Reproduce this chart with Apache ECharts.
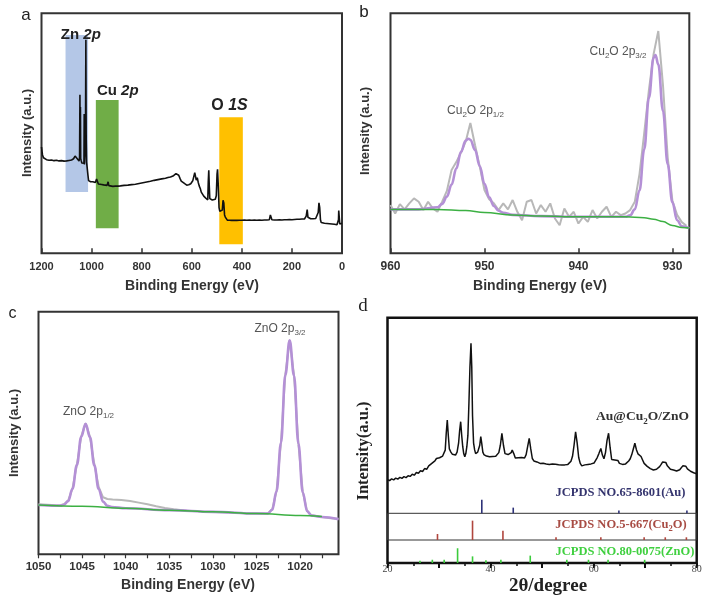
<!DOCTYPE html>
<html><head><meta charset="utf-8">
<script src="https://cdn.jsdelivr.net/npm/echarts/dist/echarts.min.js"></script>
<style>html,body{margin:0;padding:0;background:#fff}#c{width:709px;height:603px}</style>
</head><body><div id="c"></div>
<script>
// ---------- Panel a: XPS survey ----------
const surveyE = [1200,1198,1196,1192,1187,1180,1170,1160,1150,1140,1130,1120,1110,1100,1090,1080,1072,1066,1062,1058,1054,1050,1048,1046.5,1045.5,1044.5,1043.5,1041.5,1039,1036,1032,1030.5,1029.5,1028.5,1026,1024.5,1022.8,1021.5,1020,1018,1015,1012,1008,1004,1000,995,990,985,980,977,973,968,960,952,945,938,934,931,925,915,905,895,885,870,855,840,825,810,795,780,765,750,735,720,705,695,685,675,668,663,658,652,647,642,635,628,620,612,604,596,592,588,585,582,578,574,570,566,562,558,552,548,544,539,536,534,532,530,528,524,518,512,506,502,499,497,494,491,488,485,481,478,475,472,469,466,462,458,450,440,430,420,410,400,390,380,370,360,350,340,330,320,310,300,290,286,283,280,270,260,250,240,230,220,210,200,190,180,170,160,150,143,139,136,132,125,115,105,98,95,92,89,86,83,78,70,60,50,40,30,20,16,14,13,11,9,6,3,0];
const surveyI = [44.3,42.5,41,39.8,39.4,39.0,38.8,38.9,38.6,38.8,38.5,38.6,38.4,38.5,38.7,38.9,39.4,40.5,41.3,39.5,38.8,38.4,40,66.1,40,61,39.5,38.6,37.6,37.4,36.8,37.5,58,37,36.4,45,89.0,48,38,36,33,30.3,29.9,29.8,29.5,29.8,29.4,29.5,31.0,30.5,28.9,29.0,28.7,28.5,28.6,28.3,29.8,28.2,28.1,27.9,28.0,28.0,28.1,28.3,28.4,28.6,28.8,29.1,29.4,29.7,30.0,30.4,30.7,31.0,31.3,31.6,31.8,32.2,32.8,33.2,33.0,32.5,31.2,30.1,29.4,29.0,28.4,28.6,29.0,30.2,31.0,33.6,33.0,30.5,31.5,29.5,28.0,27.0,25.5,24.9,23.8,23.5,23.0,22.5,22.3,30,34.6,28,22.8,22.5,22.2,22.1,22.5,24,33,35.0,28,19,17.5,17.2,16.7,18,22.1,21,16,15.1,14.3,13.8,13.8,13.7,13.8,13.7,13.8,13.8,13.9,13.8,13.9,13.8,13.9,13.8,13.9,13.8,13.9,13.9,14.0,16.0,16.2,14.0,13.9,13.9,14.0,13.9,14.0,14.0,14.1,14.0,14.1,14.2,14.2,14.3,14.3,15.5,18.2,15.0,14.5,14.4,14.4,14.5,14.5,17,21,19,14,12.8,12.6,12.5,12.4,12.3,12.2,12.1,11.9,11.8,14,17.8,17,12.2,12.1,12.0,12.5];
const bandNames = ['Zn', 'Cu', 'O'];
const bandOrbital = ['2p', '2p', '1S'];
const bandFrom = [1104, 983, 490];
const bandTo = [1014, 892, 396];
const bandLow = [25.5, 10.4, 3.8];
const bandHigh = [91, 63.9, 56.7];
const bandColors = ['#b4c7e7', '#70ad47', '#ffc000'];

// ---------- Panel b: Cu 2p ----------
const cuRawE = [960,959.5,959,958.5,958,957.5,957,956.5,956,955.5,955,954.5,954,953.5,953,952.5,952,951.5,951,950.5,950,949.5,949,948.5,948,947.5,947,946.5,946,945.5,945,944.5,944,943.5,943,942.5,942,941.5,941,940.5,940,939.5,939,938.5,938,937.5,937,936.5,936,935.5,935,934.5,934,933.5,933,932.5,932,931.5,931,930.5,930,929.5,929,928.5];
const cuRawI = [20.1,16.6,20.5,18.3,20.8,22.9,21.5,18.0,21.5,18.7,17.3,21.5,26,34.7,38,42,46.5,54.3,45,36.1,26.4,22.5,20.8,18.0,20.8,18.3,22.2,17.3,13.8,21.5,22.2,16.6,20.1,17.3,20.8,14.5,11.7,18.7,15.2,17.3,12.4,15.2,13.1,18.0,14.5,17.3,19.4,15.2,17.3,15.9,16.6,18.0,21.5,33,50,68,83,92.6,70,40,22,16,13,11.5];
const cuFitE = [960,957,955,954.5,954,953.5,953,952.5,952,951.7,951.5,951,950.5,950,949.5,949,948.5,948,947,944,940,936,935,934.5,934,933.5,933,932.5,932,931.8,931.5,931,930.5,930,929.5,929,928.2];
const cuFitI = [18.3,18.3,19.2,20.6,23.6,28.6,35.3,42.2,47.0,47.7,47.3,43.0,36.3,29.0,23.3,19.7,17.7,16.9,16.0,15.5,15.2,15.2,15.2,15.8,18.3,26.2,43.3,64.8,81.5,82.6,78.7,59.3,37.1,21.2,13.8,11.3,10.5];
const cuBgE = [960,955,952,950,947,944,940,935,933,932,931,930,929,928.2];
const cuBgI = [18.3,18.3,17.8,17.0,16.0,15.5,15.2,15.2,14.8,14.2,13.2,11.6,10.7,10.5];

// ---------- Panel c: Zn 2p ----------
const znRawE = [1050,1049,1048,1047.5,1047.1,1046.6,1046.1,1045.6,1045.1,1044.6,1044.1,1043.6,1043.1,1042.6,1042.1,1041.5,1040.5,1039.5,1038.5,1037.5,1036.5,1035.5,1034.5,1033,1031,1029,1027,1025,1023.7,1023.2,1022.7,1022.2,1021.7,1021.2,1020.7,1020.2,1019.7,1019.2,1018.7,1017.5,1016.5,1015.6];
const znRawI = [20.6,20.4,20.2,20.2,20.6,22.1,27.2,37,48.6,54,48.5,37.2,27.8,23.5,22.8,22.6,22.4,22.0,21.3,20.6,19.8,19.1,18.6,18.0,17.6,17.3,17.0,16.8,16.9,18.5,26.2,46,74,88.3,73.8,45.7,25.7,17.9,16.1,15.4,14.9,14.5];
const znFitE = [1050,1048,1047.5,1047.1,1046.6,1046.1,1045.6,1045.1,1044.6,1044.1,1043.6,1043.1,1042.6,1042.1,1041.6,1040,1035,1030,1025,1023.7,1023.2,1022.7,1022.2,1021.7,1021.2,1020.7,1020.2,1019.7,1019.2,1018.7,1017.5,1015.6];
const znFitI = [20.3,20.0,20.0,20.4,21.9,27.0,36.8,48.4,53.8,48.3,36.7,26.9,21.7,20.0,19.5,19.0,18.2,17.5,16.8,16.8,18.4,26.0,45.9,73.9,88.2,73.7,45.6,25.6,17.8,16.0,15.4,14.5];
const znBgE = [1050,1045,1040,1035,1030,1025,1020,1017.5];
const znBgI = [20.3,19.8,19.0,18.2,17.5,16.8,16.0,15.6];

// ---------- Panel d: XRD ----------
const xrdTheta = [20.0,20.4,20.8,21.2,21.6,22.0,22.4,22.8,23.2,23.6,24.0,24.4,24.8,25.2,25.6,26.0,26.4,26.8,27.2,27.6,28.0,28.3,28.6,28.9,29.2,29.5,29.8,30.1,30.4,30.7,31.0,31.2,31.4,31.6,31.8,32.0,32.3,32.6,32.9,33.2,33.5,33.8,34.0,34.2,34.4,34.6,34.8,35.0,35.2,35.4,35.6,35.8,36.0,36.2,36.35,36.5,36.7,36.9,37.1,37.3,37.5,37.7,37.9,38.1,38.3,38.5,38.7,38.9,39.2,39.5,39.8,40.1,40.4,40.7,41.0,41.3,41.6,41.9,42.2,42.5,42.8,43.1,43.4,43.7,44.0,44.2,44.5,44.8,45.1,45.4,45.7,46.0,46.3,46.6,46.9,47.2,47.5,47.8,48.1,48.4,48.7,49.0,49.3,49.6,49.9,50.2,50.5,50.8,51.1,51.4,51.7,52.0,52.3,52.6,52.9,53.2,53.5,53.8,54.1,54.4,54.7,55.0,55.3,55.6,55.9,56.2,56.5,56.8,57.1,57.4,57.7,58.0,58.3,58.6,58.9,59.2,59.5,59.8,60.1,60.4,60.7,61.0,61.4,61.7,62.0,62.3,62.6,62.9,63.2,63.5,63.8,64.1,64.4,64.7,65.0,65.3,65.6,65.9,66.2,66.5,66.8,67.1,67.4,67.7,68.0,68.3,68.6,68.9,69.2,69.5,69.8,70.1,70.4,70.7,71.0,71.3,71.6,71.9,72.2,72.5,72.8,73.1,73.4,73.7,74.0,74.3,74.6,74.9,75.2,75.5,75.8,76.1,76.4,76.7,77.0,77.3,77.6,77.9,78.2,78.5,78.8,79.1,79.4,79.7,80.0];
const xrdI = [34.0,33.6,34.3,33.9,34.6,34.2,34.9,34.5,35.2,34.8,35.6,35.3,36.2,35.8,36.9,36.6,37.6,37.3,38.5,38.2,39.6,39.3,40.6,40.2,41.6,42.6,41.8,42.9,42.4,43.6,44.2,46,53,58.3,52,46.5,45.2,44.3,44.8,44.0,45.2,49,54,57.6,52,47.4,44.5,43.3,44.6,47.5,52,65.1,80,89.6,80,60,49,46.2,44.6,44.0,45.2,44.8,48,51.5,48.6,45.2,44.2,44.6,43.6,44.2,43.3,44.0,43.4,44.2,43.5,44.3,45,48,52.9,48,44.6,43.8,44.2,43.6,45,46.1,44.6,42.8,42.2,42.9,42.4,43.0,42.3,42.8,44.2,47.5,50.8,46.5,42.6,41.6,42.2,41.2,41.8,40.6,41.4,40.7,41.2,40.4,41.0,40.2,40.9,40.4,41.0,40.3,40.8,40.1,40.7,40.0,40.6,40.0,40.5,40.2,40.9,41.5,43.5,48,53.5,49,43,40.6,39.6,39.3,40.0,39.5,40.2,39.7,40.4,40.0,40.8,41.6,43,44.5,46.7,44,42.5,45,50,52.9,47,42.2,41.5,42.0,41.2,41.8,40.6,41.0,40.2,40.8,40.4,41.0,41.6,42.5,44.2,46.5,48.8,46.2,44.5,44.8,43.4,42.0,40.6,39.8,39.4,38.9,38.5,38.9,37.9,38.4,38.2,38.8,39.3,40.2,41.2,42.0,41.0,39.6,38.8,38.2,37.6,37.9,37.2,37.5,37.2,38.0,38.8,39.6,40.0,39.4,38.4,37.8,37.4,37.6,36.8,36.6,36.4];
const auPos = [38.3, 44.4, 64.9, 78.1];
const auInt = [100, 42, 20, 20];
const cu2oPos = [29.7, 36.5, 42.4, 52.7, 61.4, 69.8, 73.9, 78.0];
const cu2oInt = [31, 100, 48, 14, 14, 14, 14, 14];
const znoPos = [26.3, 28.7, 31.0, 33.6, 36.5, 39.1, 42.0, 47.7, 54.8, 59.0, 62.8, 69.9];
const znoInt = [16, 22, 22, 100, 45, 18, 22, 50, 22, 22, 22, 22];

const zip = (a, b) => a.map((v, i) => [v, b[i]]);
const SANS = '"Liberation Sans", Arial, sans-serif';
const SERIF = '"Liberation Serif", "Times New Roman", serif';
const plain = v => String(v);

const chart = echarts.init(document.getElementById('c'), null, {renderer: 'canvas'});

const gridBase = {show: true, borderColor: '#333', borderWidth: 2, backgroundColor: 'transparent', containLabel: false, outerBoundsMode: 'none'};
const grids = [
  Object.assign({}, gridBase, {left: 41.5, top: 13.3, width: 300.5, height: 240}),
  Object.assign({}, gridBase, {left: 390.5, top: 13.3, width: 298.8, height: 240}),
  Object.assign({}, gridBase, {left: 38.5, top: 311.7, width: 300, height: 242.6}),
  Object.assign({}, gridBase, {left: 387.5, top: 317.7, width: 309.2, height: 245.3, borderColor: '#111', borderWidth: 2.5}),
  {left: 387.5, top: 499.8, width: 309.2, height: 13.5, containLabel: false, outerBoundsMode: 'none'},
  Object.assign({}, gridBase, {left: 387.5, top: 513.3, width: 309.2, height: 26.7, borderColor: '#333', borderWidth: 1}),
  {left: 387.5, top: 540, width: 309.2, height: 23, containLabel: false, outerBoundsMode: 'none'}
];

const xpsLabel = (size) => ({margin: 8, fontSize: size, fontWeight: 'bold', color: '#333', fontFamily: SANS, formatter: plain});
const hiddenY = (g, max) => ({gridIndex: g, type: 'value', min: 0, max: max, show: false});

const xAxes = [
  {gridIndex: 0, type: 'value', min: 0, max: 1200, interval: 200, inverse: true,
   axisLine: {show: false}, splitLine: {show: false},
   axisTick: {show: true, inside: true, length: 5, lineStyle: {color: '#333', width: 1.5}},
   axisLabel: xpsLabel(11)},
  {gridIndex: 1, type: 'value', min: 928.2, max: 960, inverse: true,
   axisLine: {show: false}, splitLine: {show: false},
   axisTick: {show: true, inside: true, length: 5, customValues: [930, 940, 950, 960], lineStyle: {color: '#333', width: 1.5}},
   axisLabel: Object.assign(xpsLabel(12), {margin: 7, customValues: [930, 940, 950, 960]})},
  {gridIndex: 2, type: 'value', min: 1015.6, max: 1050, inverse: true,
   axisLine: {show: false}, splitLine: {show: false},
   axisTick: {show: true, inside: false, length: 4, customValues: [1017.5,1020,1022.5,1025,1027.5,1030,1032.5,1035,1037.5,1040,1042.5,1045,1047.5,1050], lineStyle: {color: '#333', width: 1.2}},
   axisLabel: Object.assign(xpsLabel(11.5), {margin: 7, customValues: [1020,1025,1030,1035,1040,1045,1050]})},
  {gridIndex: 3, type: 'value', min: 20, max: 80, interval: 10,
   axisLine: {show: false}, splitLine: {show: false},
   axisTick: {show: true, inside: false, length: 5, lineStyle: {color: '#111', width: 2}},
   minorTick: {show: true, splitNumber: 2, length: 3, lineStyle: {color: '#111', width: 1.5}},
   axisLabel: {margin: 1, fontSize: 10, color: '#444', fontFamily: SERIF, formatter: v => (v % 20 === 0 ? String(v) : '')}},
  {gridIndex: 4, type: 'value', min: 20, max: 80, show: false},
  {gridIndex: 5, type: 'value', min: 20, max: 80, show: false},
  {gridIndex: 6, type: 'value', min: 20, max: 80, show: false}
];
const yAxes = [hiddenY(0, 100), hiddenY(1, 100), hiddenY(2, 100), hiddenY(3, 100), hiddenY(4, 100), hiddenY(5, 138), hiddenY(6, 156)];

const bandAreas = bandNames.map((n, i) => [
  {xAxis: bandFrom[i], yAxis: bandHigh[i], name: n,
   itemStyle: {color: bandColors[i], opacity: 1},
   label: {show: true, position: 'top', distance: 0,
     offset: [[4, 10.5, -1.5][i], [7, -2, -4][i]],
     formatter: () => '{a|' + n + ' }{b|' + bandOrbital[i] + '}',
     rich: {a: {fontSize: i === 2 ? 16 : 15, fontWeight: 'bold', fontFamily: SANS, color: '#222'},
            b: {fontSize: i === 2 ? 16 : 15, fontWeight: 'bold', fontStyle: 'italic', fontFamily: SANS, color: '#222'}}}},
  {xAxis: bandTo[i], yAxis: bandLow[i]}
]);

const lineS = (x, y, data, color, width, z, smooth) => ({
  type: 'line', xAxisIndex: x, yAxisIndex: y, data: data, showSymbol: false, symbol: 'none',
  smooth: smooth || false, smoothMonotone: smooth ? 'x' : undefined,
  lineStyle: {color: color, width: width}, z: z, silent: true, animation: false
});
const stickS = (g, pos, val, color) => ({
  type: 'bar', xAxisIndex: g, yAxisIndex: g, data: zip(pos, val), barWidth: 1.6,
  itemStyle: {color: color}, silent: true, animation: false, z: 4
});

const series = [
  Object.assign(lineS(0, 0, zip(surveyE, surveyI), 'rgba(0,0,0,0)', 0, 1), {markArea: {silent: true, data: bandAreas}}),
  lineS(0, 0, zip(surveyE, surveyI), '#111', 1.6, 5),
  lineS(1, 1, zip(cuRawE, cuRawI), '#b8b8b8', 2, 2),
  lineS(1, 1, zip(cuFitE, cuFitI), '#b490d6', 2.6, 3, 0.4),
  lineS(1, 1, zip(cuBgE, cuBgI), '#3cb043', 1.5, 4, 0.4),
  lineS(2, 2, zip(znRawE, znRawI), '#b8b8b8', 2, 2),
  lineS(2, 2, zip(znFitE, znFitI), '#b490d6', 2.6, 3, 0.4),
  lineS(2, 2, zip(znBgE, znBgI), '#3cb043', 1.5, 4, 0.4),
  lineS(3, 3, zip(xrdTheta, xrdI), '#111', 1.5, 5),
  stickS(4, auPos, auInt, '#2e3278'),
  stickS(5, cu2oPos, cu2oInt, '#b0463e'),
  stickS(6, znoPos, znoInt, '#3ccc3c')
];

const txt = (x, y, text, opts) => ({type: 'text', x: x, y: y, rotation: opts.rot || 0, z: 100, silent: true,
  style: Object.assign({text: text, align: 'center', verticalAlign: 'middle', fill: '#222', fontFamily: SANS}, opts.style)});
const sub = (main, color, family, weight, mainSize, subSize) => ({
  m: {fontSize: mainSize, fontFamily: family, fontWeight: weight, fill: color, padding: [0, 0, 2, 0]},
  s: {fontSize: subSize, fontFamily: family, fontWeight: weight, fill: color, verticalAlign: 'bottom'}
});
const R90 = Math.PI / 2;
const graphics = [
  txt(26, 15, 'a', {style: {fontSize: 17, fill: '#222'}}),
  txt(364, 12, 'b', {style: {fontSize: 17, fill: '#222'}}),
  txt(12.5, 314, 'c', {style: {fontSize: 16, fill: '#222'}}),
  txt(363, 306, 'd', {style: {fontSize: 19, fill: '#222', fontFamily: SERIF}}),
  txt(27.5, 133, 'Intensity (a.u.)', {rot: R90, style: {fontSize: 13, fontWeight: 'bold', fill: '#333'}}),
  txt(192, 286, 'Binding Energy (eV)', {style: {fontSize: 14, fontWeight: 'bold', fill: '#333'}}),
  txt(365, 131, 'Intensity (a.u.)', {rot: R90, style: {fontSize: 13, fontWeight: 'bold', fill: '#333'}}),
  txt(540, 286, 'Binding Energy (eV)', {style: {fontSize: 14, fontWeight: 'bold', fill: '#333'}}),
  txt(14, 433, 'Intensity (a.u.)', {rot: R90, style: {fontSize: 13, fontWeight: 'bold', fill: '#333'}}),
  txt(188, 585, 'Binding Energy (eV)', {style: {fontSize: 14, fontWeight: 'bold', fill: '#333'}}),
  txt(363.5, 451, 'Intensity(a.u.)', {rot: R90, style: {fontSize: 16.5, fontWeight: 'bold', fill: '#222', fontFamily: SERIF}}),
  txt(548, 586, '2θ/degree', {style: {fontSize: 19, fontWeight: 'bold', fill: '#222', fontFamily: SERIF}}),
  txt(475.5, 112, '{m|Cu}{s|2}{m|O 2p}{s|1/2}', {style: {rich: sub('', '#555', SANS, 'normal', 12, 8)}}),
  txt(618, 53, '{m|Cu}{s|2}{m|O 2p}{s|3/2}', {style: {rich: sub('', '#555', SANS, 'normal', 12, 8)}}),
  txt(88.5, 413, '{m|ZnO 2p}{s|1/2}', {style: {rich: sub('', '#555', SANS, 'normal', 12, 8)}}),
  txt(280, 330, '{m|ZnO 2p}{s|3/2}', {style: {rich: sub('', '#555', SANS, 'normal', 12, 8)}}),
  txt(642.5, 418, '{m|Au@Cu}{s|2}{m|O/ZnO}', {style: {rich: sub('', '#333', SERIF, 'bold', 13.5, 9)}}),
  txt(620.5, 492.5, 'JCPDS NO.65-8601(Au)', {style: {fontSize: 12.5, fontWeight: 'bold', fill: '#34346e', fontFamily: SERIF}}),
  txt(621, 526, '{m|JCPDS NO.5-667(Cu}{s|2}{m|O)}', {style: {rich: sub('', '#a84c44', SERIF, 'bold', 12.5, 8.5)}}),
  txt(625, 552, 'JCPDS NO.80-0075(ZnO)', {style: {fontSize: 12.5, fontWeight: 'bold', fill: '#40d040', fontFamily: SERIF}})
];

chart.setOption({
  animation: false,
  backgroundColor: '#fff',
  grid: grids,
  xAxis: xAxes,
  yAxis: yAxes,
  series: series,
  graphic: graphics
});
</script>
</body></html>
